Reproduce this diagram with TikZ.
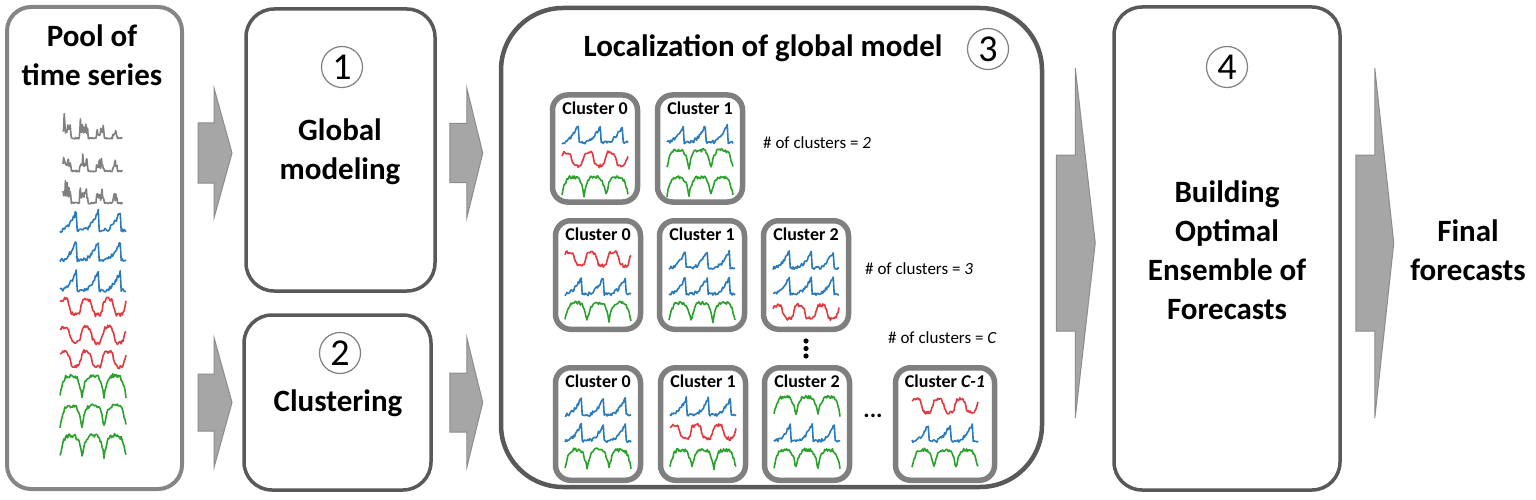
\documentclass[tikz,border=0pt]{standalone}
\usepackage{fontspec}
\setmainfont{Carlito}
\usetikzlibrary{positioning,calc}

\definecolor{boxgray}{HTML}{595959}
\definecolor{poolgray}{HTML}{858585}
\definecolor{clgray}{HTML}{7F7F7F}
\definecolor{arrowfill}{HTML}{A6A6A6}
\definecolor{arrowedge}{HTML}{8C8C8C}
\definecolor{tsblue}{HTML}{2B7BBA}
\definecolor{tsred}{HTML}{DE3A3F}
\definecolor{tsgreen}{HTML}{2CA02C}
\definecolor{tsgray}{HTML}{808080}

\begin{document}
\begin{tikzpicture}[
    x=1pt, y=-1pt,
    declare function={
      fblue(\t) = (frac(\t) < 0.78) ? (-9 + 30*frac(\t)*frac(\t) + 1.8*rand) : (-9 + 1.3*rand);
      fred(\t) = 7*tanh(2*sin(360*\t + 20)) + 1.8*rand;
      fgreen(\t) = -9 + 18*abs(sin(180*\t))*(2 - abs(sin(180*\t))) + 1.8*rand;
      fgray(\t) = -12 + 1.2*rnd + (frac(\t) < 0.5)*(\t < 3.3)*exp(-0.3*\t)*(5 + 22*rnd*rnd);
    },
    stage/.style = {draw = boxgray, line width = 3.5pt, rounded corners = 28pt, fill = white},
    poolbox/.style = {stage, draw = poolgray, line width = 4pt, rounded corners = 24pt},
    locbox/.style = {stage, line width = 4.5pt, rounded corners = 62pt},
    clbox/.style = {draw = clgray, line width = 5.5pt, rounded corners = 15pt, fill = white},
    lbl/.style = {font = \bfseries\fontsize{31}{39}\selectfont, align = center},
    num/.style = {circle, draw = tsgray, line width = 1.2pt, inner sep = 0pt,
      minimum size = 41pt, font = \fontsize{38}{38}\selectfont},
    cltitle/.style = {font = \bfseries\fontsize{18}{18}\selectfont, inner sep = 0pt},
    note/.style = {font = \fontsize{17}{17}\selectfont, inner sep = 0pt, anchor = west},
    ts/.style = {line width = 1.6pt, line join = round},
    bluets/.pic = {\draw[tsblue, ts] plot[domain = 0:3, samples = 70, variable = \t]
      ({22*\t - 33}, {-fblue(\t)});},
    redts/.pic = {\draw[tsred, ts] plot[domain = 0:3, samples = 70, variable = \t]
      ({22*\t - 33}, {-fred(\t)});},
    greents/.pic = {\draw[tsgreen, ts] plot[domain = 0:3, samples = 70, variable = \t]
      ({22*\t - 33}, {-fgreen(\t)});},
    grayts/.pic = {\draw[tsgray, ts] plot[domain = 0:3.6, samples = 100, variable = \t]
      ({16.5*\t - 30}, {-fgray(\t)});},
    pics/flowarrow/.style n args = {4}{code = {
      \filldraw[fill = arrowfill, draw = arrowedge, line width = 1pt]
        (0,-#3) -- (#1,-#3) -- (#1,-#4) -- ({#1+#2},0) -- (#1,#4) -- (#1,#3) -- (0,#3) -- cycle;
    }}
  ]
  \pgfmathsetseed{11}
  \useasboundingbox (0,0) rectangle (1536,500);

  % stages
  \node[poolbox, minimum width = 175, minimum height = 482] (pool) at (94.5,248) {};
  \node[stage, minimum width = 189, minimum height = 282] (glob) at (340.5,150) {};
  \node[stage, minimum width = 187, minimum height = 175] (clus) at (337.5,402.5) {};
  \node[locbox, minimum width = 541, minimum height = 479] (loc) at (771.5,247.5) {};
  \node[stage, minimum width = 226, minimum height = 483] (build) at (1227,248.5) {};

  \node[lbl] (pooltxt) at (92,55) {Pool of\\time series};
  \node[num] (n1) at (342,67) {1};
  \node[lbl] (globtxt) at (340,152) {Global\\modeling};
  \node[num] (n2) at (340,353) {2};
  \node[lbl] (clustxt) at (338,403) {Clustering};
  \node[lbl] (loctxt) at (763,48) {Localization of global model};
  \node[num] (n3) at (988,49) {3};
  \node[num] (n4) at (1227,67) {4};
  \node[lbl] (buildtxt) at (1227,250) {Building\\Optimal\\Ensemble of\\Forecasts};
  \node[lbl] (final) at (1468,250) {Final\\forecasts};

  % pool of series
  \foreach \ty/\ts in {125/grayts, 158/grayts, 190/grayts, 220/bluets, 250/bluets,
      280/bluets, 307/redts, 335/redts, 359/redts, 386/greents, 416/greents, 446/greents}
    \pic[yscale = 1.15] at (93,\ty) {\ts};

  % clusters
  \foreach \nm/\cx/\cy/\w/\h/\ttl in {k10/595/148.5/85/107/0, k11/700/148.5/85/107/1,
      k20/598/275/85/108.5/0, k21/702/275/85/108.5/1, k22/806/275/85/108.5/2,
      k30/598/424/85/112.5/0, k31/703/424/85/112.5/1, k32/807/424/85/112.5/2,
      k33/945/424/99/112.5/{\textit{C-1}}}
  {
    \node[clbox, minimum width = \w, minimum height = \h] (\nm) at (\cx,\cy) {};
    \node[cltitle] at ($(\nm.north)+(0,16)$) {Cluster \ttl};
  }
  \foreach \nm/\a/\b/\c in {k10/bluets/redts/greents, k11/bluets/greents/greents,
      k20/redts/bluets/greents, k21/bluets/bluets/greents, k22/bluets/bluets/redts,
      k30/bluets/bluets/greents, k31/bluets/redts/greents, k32/greents/bluets/greents,
      k33/redts/bluets/greents}
  {
    \pic at ($(\nm.north)+(0,41)$) {\a};
    \pic at ($(\nm.north)+(0,67)$) {\b};
    \pic at ($(\nm.north)+(0,94)$) {\c};
  }
  \node[note] (nc2) at (763,143) {\# of clusters = \textit{2}};
  \node[note] (nc3) at (865,269) {\# of clusters = \textit{3}};
  \node[note] (ncc) at (888,338) {\# of clusters = \textit{C}};
  \foreach \dy in {0,7.5,15}
    \fill (806,341+\dy) circle (2.6);
  \node[cltitle, font = \bfseries\fontsize{24}{24}\selectfont] (dots) at (873,416) {...};

  % block arrows
  \pic at ($(pool.east |- glob.center)+(14,3)$) {flowarrow={16}{18}{30}{65}};
  \pic at ($(pool.east |- clus.center)+(14,0)$) {flowarrow={16}{18}{28.5}{65}};
  \pic at ($(glob.east)+(13,3)$) {flowarrow={17}{16}{29.5}{65}};
  \pic at ($(clus.east)+(17,0)$) {flowarrow={17}{16}{29.5}{65}};
  \pic at ($(loc.east)+(12,-4.5)$) {flowarrow={19}{20}{88}{175}};
  \pic at ($(build.east)+(14,-5.5)$) {flowarrow={19}{19}{88}{175}};
\end{tikzpicture}
\end{document}
